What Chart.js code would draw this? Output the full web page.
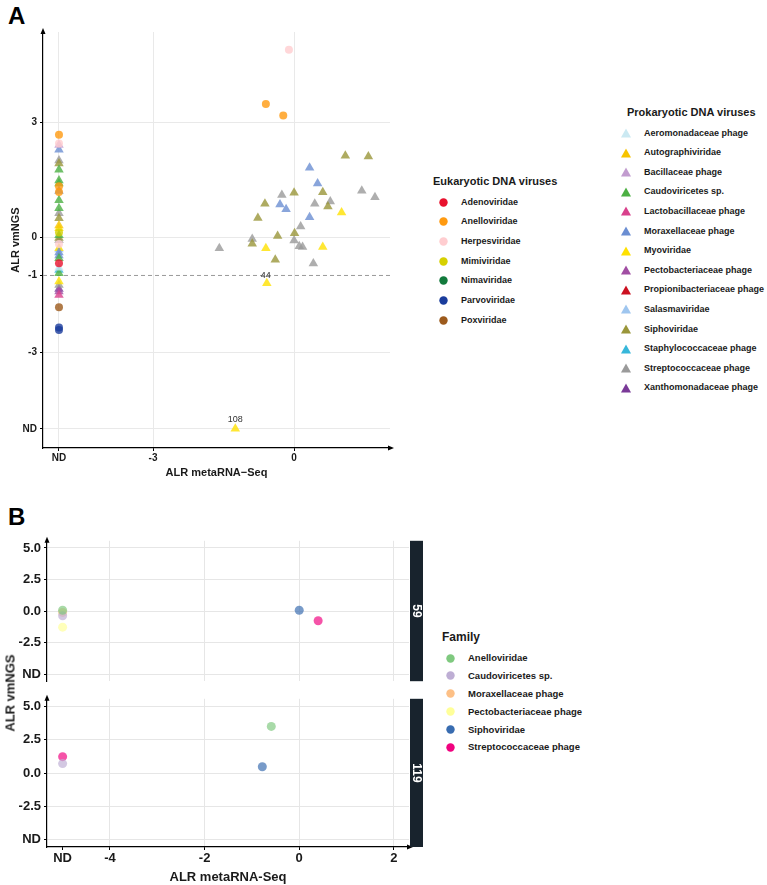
<!DOCTYPE html>
<html>
<head>
<meta charset="utf-8">
<script src="https://cdn.jsdelivr.net/npm/chart.js@4/dist/chart.umd.min.js"></script>
<style>
  body { margin: 0; background: #fff; font-family: "Liberation Sans", Arial, sans-serif; }
  #page { position: relative; width: 767px; height: 885px; overflow: hidden; background: #fff; }
  canvas { position: absolute; }
  .txt { position: absolute; font-weight: bold; color: #1a1a1a; white-space: nowrap; }
  .mk { position: absolute; }
</style>
</head>
<body>
<div id="page">
  <div class="txt" style="left:8px;top:2px;font-size:24px;color:#000">A</div>
  <div class="txt" style="left:8px;top:503px;font-size:24px;color:#000">B</div>
  <canvas id="chartA" width="400" height="480" style="left:0;top:0"></canvas>
  <canvas id="chartB59" width="430" height="162" style="left:0;top:530px"></canvas>
  <canvas id="chartB119" width="430" height="197" style="left:0;top:688px"></canvas>
  <div class="txt" style="left:10px;top:693px;font-size:13px;transform:translate(-50%,-50%) rotate(-90deg)">ALR vmNGS</div>
</div>
<script>
const ND = -5; // "not detected" position on both axes

// ---------- Panel A ----------
const eukFamilies = ["Adenoviridae", "Anelloviridae", "Herpesviridae", "Mimiviridae",
  "Nimaviridae", "Parvoviridae", "Poxviridae"];
const eukColors = ["#e8112d", "#ff9a10", "#ffcdd0", "#d6d000", "#127a3c", "#1a3c9c", "#9c5a1c"];

const prokFamilies = ["Aeromonadaceae phage", "Autographiviridae", "Bacillaceae phage",
  "Caudoviricetes sp.", "Lactobacillaceae phage", "Moraxellaceae phage", "Myoviridae",
  "Pectobacteriaceae phage", "Propionibacteriaceae phage", "Salasmaviridae", "Siphoviridae",
  "Staphylococcaceae phage", "Streptococcaceae phage", "Xanthomonadaceae phage"];
const prokColors = ["#cbe9f2", "#f7c400", "#c29ccf", "#4cb043", "#d9418c", "#6b8ed2", "#ffe100",
  "#a14ea3", "#cc1020", "#9fc6ef", "#9a963a", "#37b7da", "#9a9a9a", "#7a3a98"];

const aFamily = [
  // detected by both methods
  "Herpesviridae", "Anelloviridae", "Anelloviridae",
  "Siphoviridae", "Siphoviridae", "Siphoviridae", "Siphoviridae", "Siphoviridae", "Siphoviridae",
  "Siphoviridae", "Siphoviridae", "Siphoviridae", "Siphoviridae", "Siphoviridae",
  "Moraxellaceae phage", "Moraxellaceae phage", "Moraxellaceae phage", "Moraxellaceae phage",
  "Moraxellaceae phage",
  "Streptococcaceae phage", "Streptococcaceae phage", "Streptococcaceae phage",
  "Streptococcaceae phage", "Streptococcaceae phage", "Streptococcaceae phage",
  "Streptococcaceae phage", "Streptococcaceae phage", "Streptococcaceae phage",
  "Streptococcaceae phage", "Streptococcaceae phage", "Streptococcaceae phage",
  "Myoviridae", "Myoviridae", "Myoviridae", "Myoviridae", "Myoviridae",
  // not detected by metaRNA-Seq
  "Anelloviridae", "Bacillaceae phage", "Herpesviridae", "Moraxellaceae phage",
  "Streptococcaceae phage", "Siphoviridae", "Caudoviricetes sp.", "Caudoviricetes sp.",
  "Caudoviricetes sp.", "Moraxellaceae phage", "Anelloviridae", "Anelloviridae",
  "Caudoviricetes sp.", "Caudoviricetes sp.", "Streptococcaceae phage", "Siphoviridae",
  "Autographiviridae", "Myoviridae", "Mimiviridae", "Caudoviricetes sp.", "Siphoviridae",
  "Streptococcaceae phage", "Herpesviridae", "Myoviridae", "Salasmaviridae",
  "Moraxellaceae phage", "Moraxellaceae phage", "Caudoviricetes sp.", "Adenoviridae",
  "Aeromonadaceae phage", "Staphylococcaceae phage", "Caudoviricetes sp.", "Myoviridae",
  "Streptococcaceae phage", "Xanthomonadaceae phage", "Pectobacteriaceae phage",
  "Lactobacillaceae phage", "Poxviridae", "Parvoviridae", "Parvoviridae"
];
const aMetaRNA = [
  -0.11, -0.60, -0.23,
  1.09, 1.58, 0.00, 0.61, -0.62, 0.72, -0.77, -0.35, 0.01, -0.89, -0.40,
  0.33, 0.50, -0.30, -0.17, 0.33,
  -0.26, 1.44, 1.72, 0.44, 0.77, 0.14, -1.59, -0.89, 0.00, 0.11, 0.18, 0.41,
  1.01, -0.60, 0.61, -0.58, -1.25,
  ND, ND, ND, ND, ND, ND, ND, ND, ND, ND, ND, ND, ND, ND, ND, ND, ND, ND, ND, ND,
  ND, ND, ND, ND, ND, ND, ND, ND, ND, ND, ND, ND, ND, ND, ND, ND, ND, ND, ND, ND
];
const aVmNGS = [
  4.89, 3.47, 3.17,
  2.12, 2.10, 1.16, 1.17, 0.87, 0.80, 0.50, 0.03, 0.10, -0.17, -0.59,
  1.81, 1.40, 0.85, 0.73, 0.52,
  1.10, 1.21, 1.04, 0.87, 0.93, 0.28, -0.29, -0.05, -0.09, -0.24, -0.26, -0.69,
  0.64, -0.29, -0.26, -1.20, ND,
  2.67, 2.40, 2.44, 2.28, 2.00, 1.92, 1.76, 1.48, 1.40, 1.20, 1.33, 1.18, 0.96, 0.75,
  0.62, 0.49, 0.30, 0.23, 0.12, 0.05, -0.02, -0.08, -0.18, -0.29, -0.32, -0.40, -0.48,
  -0.55, -0.68, -0.80, -0.86, -0.94, -1.16, -1.25, -1.35, -1.42, -1.51, -1.83, -2.36, -2.42
];
const aXTicks = [ND, -3, 0];
const aYTicks = [ND, -3, -1, 0, 3];
const aThreshold = -1;
const aNoteText = ["44", "108"];
const aNoteX = [-0.60, -1.25];
const aNoteY = [-1.00, -4.77];

// ---------- Panel B ----------
const bFamilies = ["Anelloviridae", "Caudoviricetes sp.", "Moraxellaceae phage",
  "Pectobacteriaceae phage", "Siphoviridae", "Streptococcaceae phage"];
const bColors = ["#7fc97f", "#beaed4", "#fdc086", "#ffff99", "#386cb0", "#f0027f"];
const bFacets = ["59", "119"];
const b59Family = ["Anelloviridae", "Moraxellaceae phage", "Caudoviricetes sp.",
  "Pectobacteriaceae phage", "Siphoviridae", "Streptococcaceae phage"];
const b59MetaRNA = [ND, ND, ND, ND, 0.00, 0.40];
const b59VmNGS = [0.07, -0.10, -0.37, -1.27, 0.07, -0.76];
const b119Family = ["Streptococcaceae phage", "Caudoviricetes sp.", "Anelloviridae", "Siphoviridae"];
const b119MetaRNA = [ND, ND, -0.59, -0.78];
const b119VmNGS = [1.23, 0.71, 3.50, 0.47];
const bXTicks = [ND, -4, -2, 0, 2];
const bYTicks = [ND, -2.5, 0, 2.5, 5];

Chart.defaults.font.family = '"Liberation Sans", Arial, sans-serif';
Chart.defaults.color = "#1a1a1a";

function alpha(hex, a) {
  const n = parseInt(hex.slice(1), 16);
  return `rgba(${(n >> 16) & 255},${(n >> 8) & 255},${n & 255},${a})`;
}

function ndLabel(v) {
  if (v === ND) return "ND";
  return v;
}

function buildDatasets(families, colors, famArr, xs, ys, style, radius, a) {
  return families.map((f, i) => {
    const data = [];
    famArr.forEach((g, k) => { if (g === f) data.push({ x: xs[k], y: ys[k] }); });
    return {
      type: "scatter",
      data,
      pointStyle: style,
      pointRadius: radius,
      pointHoverRadius: radius,
      pointBorderWidth: 0,
      backgroundColor: alpha(colors[i], a),
      borderColor: alpha(colors[i], a),
    };
  }).filter(d => d.data.length);
}

const arrowPlugin = {
  id: "axisArrows",
  afterDraw(chart, args, opts) {
    const { ctx, chartArea: { left, top, right, bottom } } = chart;
    ctx.save();
    ctx.fillStyle = "#000";
    if (opts.up) {
      ctx.beginPath();
      ctx.moveTo(left, top - 4);
      ctx.lineTo(left - 2.5, top + 2);
      ctx.lineTo(left + 2.5, top + 2);
      ctx.closePath();
      ctx.fill();
    }
    if (opts.right) {
      ctx.beginPath();
      ctx.moveTo(right + 4, bottom);
      ctx.lineTo(right - 2, bottom - 2.5);
      ctx.lineTo(right - 2, bottom + 2.5);
      ctx.closePath();
      ctx.fill();
    }
    ctx.restore();
  },
};

const stripPlugin = {
  id: "facetStrip",
  afterDraw(chart, args, opts) {
    if (!opts.label) return;
    const { ctx, chartArea: { top, right, bottom } } = chart;
    ctx.save();
    ctx.fillStyle = "#18232d";
    ctx.fillRect(right + 1, top, 13, bottom - top);
    ctx.translate(right + 7.5, (top + bottom) / 2);
    ctx.rotate(Math.PI / 2);
    ctx.fillStyle = "#fff";
    ctx.font = 'bold 12px "Liberation Sans", Arial, sans-serif';
    ctx.textAlign = "center";
    ctx.textBaseline = "middle";
    ctx.fillText(opts.label, 0, 0);
    ctx.restore();
  },
};

const notePlugin = {
  id: "pointNotes",
  afterDatasetsDraw(chart, args, opts) {
    if (!opts.texts) return;
    const { ctx, scales: { x, y } } = chart;
    ctx.save();
    ctx.fillStyle = "#333";
    ctx.font = '9px "Liberation Sans", Arial, sans-serif';
    ctx.textAlign = "center";
    ctx.textBaseline = "middle";
    opts.texts.forEach((t, i) => {
      ctx.fillText(t, x.getPixelForValue(opts.xs[i]), y.getPixelForValue(opts.ys[i]));
    });
    ctx.restore();
  },
};

function fixedTicks(values) {
  return scale => { scale.ticks = values.map(v => ({ value: v })); };
}

// ---------- Chart A ----------
const dsA = [
  {
    type: "line",
    data: [{ x: -5.34, y: aThreshold }, { x: 2.04, y: aThreshold }],
    borderColor: "#999",
    borderWidth: 1,
    borderDash: [4, 3],
    pointRadius: 0,
    order: 10,
  },
  ...buildDatasets(eukFamilies, eukColors, aFamily, aMetaRNA, aVmNGS, "circle", 4, 0.8),
  ...buildDatasets(prokFamilies, prokColors, aFamily, aMetaRNA, aVmNGS, "triangle", 5.5, 0.8),
];

new Chart(document.getElementById("chartA"), {
  type: "scatter",
  data: { datasets: dsA },
  options: {
    responsive: false,
    animation: false,
    layout: { padding: { top: 32, right: 10, left: 0, bottom: 0 } },
    plugins: {
      legend: { display: false },
      tooltip: { enabled: false },
      axisArrows: { up: true, right: true },
      pointNotes: { texts: aNoteText, xs: aNoteX, ys: aNoteY },
    },
    scales: {
      x: {
        type: "linear", min: -5.34, max: 2.04,
        afterBuildTicks: fixedTicks(aXTicks),
        afterFit(s) { s.height = 32; },
        ticks: { callback: ndLabel, font: { size: 10, weight: "bold" }, padding: 1, maxRotation: 0 },
        grid: { color: "#e9e9e9", tickColor: "#000", tickLength: 3 },
        border: { display: true, color: "#000", width: 1.2 },
        title: { display: true, text: "ALR metaRNA\u2212Seq", font: { size: 11, weight: "bold" }, padding: 0 },
      },
      y: {
        type: "linear", min: -5.5, max: 5.35,
        afterBuildTicks: fixedTicks(aYTicks),
        afterFit(s) { s.width = 43; },
        ticks: { callback: ndLabel, font: { size: 10, weight: "bold" }, padding: 3 },
        grid: {
          color: c => (c.tick && c.tick.value === aThreshold ? "rgba(0,0,0,0)" : "#e9e9e9"),
          tickColor: "#000", tickLength: 3,
        },
        border: { display: true, color: "#000", width: 1.2 },
        title: { display: true, text: "ALR vmNGS", font: { size: 11, weight: "bold" }, padding: { top: 9, bottom: 0 } },
      },
    },
  },
  plugins: [arrowPlugin, notePlugin],
});

// ---------- Chart B (faceted) ----------
function facetChart(id, fam, xs, ys, label, isBottom, padTop, padBottom) {
  return new Chart(document.getElementById(id), {
    type: "scatter",
    data: { datasets: buildDatasets(bFamilies, bColors, fam, xs, ys, "circle", 4.5, 0.68) },
    options: {
      responsive: false,
      animation: false,
      layout: { padding: { top: padTop, right: 21, left: 0, bottom: padBottom } },
      plugins: {
        legend: { display: false },
        tooltip: { enabled: false },
        axisArrows: { up: true, right: isBottom },
        facetStrip: { label },
      },
      scales: {
        x: {
          type: "linear", min: -5.33, max: 2.32,
          afterBuildTicks: fixedTicks(bXTicks),
          afterFit(s) { s.height = isBottom ? 38 : 0; },
          ticks: {
            display: isBottom, callback: ndLabel, font: { size: 13, weight: "bold" },
            padding: 1, maxRotation: 0,
          },
          grid: {
            color: c => (c.tick && c.tick.value === ND ? "rgba(0,0,0,0)" : "#e6e6e6"),
            drawTicks: isBottom, tickColor: "#000", tickLength: 3,
          },
          border: { display: isBottom, color: "#000", width: 1.2 },
          title: {
            display: isBottom, text: "ALR metaRNA-Seq",
            font: { size: 13, weight: "bold" }, padding: 0,
          },
        },
        y: {
          type: "linear", min: -5.55, max: 5.57,
          afterBuildTicks: fixedTicks(bYTicks),
          afterFit(s) { s.width = 47; },
          ticks: {
            callback: v => (v === ND ? "ND" : v.toFixed(1)),
            font: { size: 13, weight: "bold" }, padding: 3,
          },
          grid: { color: "#e6e6e6", tickColor: "#000", tickLength: 3 },
          border: { display: true, color: "#000", width: 1.2 },
        },
      },
    },
    plugins: [arrowPlugin, stripPlugin],
  });
}

facetChart("chartB59", b59Family, b59MetaRNA, b59VmNGS, bFacets[0], false, 8, 3);
facetChart("chartB119", b119Family, b119MetaRNA, b119VmNGS, bFacets[1], true, 8, 0);

// ---------- HTML legends ----------
const page = document.getElementById("page");

function marker(shape, color, cx, cy, size) {
  const ns = "http://www.w3.org/2000/svg";
  const svg = document.createElementNS(ns, "svg");
  svg.setAttribute("width", size);
  svg.setAttribute("height", size);
  svg.setAttribute("class", "mk");
  svg.style.left = (cx - size / 2) + "px";
  svg.style.top = (cy - size / 2) + "px";
  let el;
  if (shape === "circle") {
    el = document.createElementNS(ns, "circle");
    el.setAttribute("cx", size / 2);
    el.setAttribute("cy", size / 2);
    el.setAttribute("r", size / 2 - 0.3);
  } else {
    el = document.createElementNS(ns, "polygon");
    el.setAttribute("points", `${size / 2},0.5 ${size},${size - 0.5} 0,${size - 0.5}`);
  }
  el.setAttribute("fill", color);
  svg.appendChild(el);
  page.appendChild(svg);
}

function text(str, x, y, size) {
  const d = document.createElement("div");
  d.className = "txt";
  d.textContent = str;
  d.style.left = x + "px";
  d.style.top = (y - size * 0.6) + "px";
  d.style.fontSize = size + "px";
  d.style.lineHeight = (size * 1.2) + "px";
  page.appendChild(d);
}

function legend(title, names, colors, shape, c) {
  text(title, c.titleX, c.titleY, c.titleSize);
  names.forEach((n, i) => {
    const y = c.y0 + i * c.step;
    marker(shape, colors[i], c.markerX, y, c.markerSize);
    text(n, c.labelX, y, c.fontSize);
  });
}

legend("Eukaryotic DNA viruses", eukFamilies, eukColors, "circle",
  { titleX: 433, titleY: 182, titleSize: 11, y0: 202, step: 19.7, markerX: 443, labelX: 461, fontSize: 9, markerSize: 9 });
legend("Prokaryotic DNA viruses", prokFamilies, prokColors, "triangle",
  { titleX: 627, titleY: 113, titleSize: 11, y0: 133, step: 19.6, markerX: 626, labelX: 644, fontSize: 9, markerSize: 10 });
legend("Family", bFamilies, bColors, "circle",
  { titleX: 442, titleY: 637, titleSize: 12, y0: 658, step: 17.8, markerX: 450, labelX: 468, fontSize: 9.5, markerSize: 9 });
</script>
</body>
</html>
